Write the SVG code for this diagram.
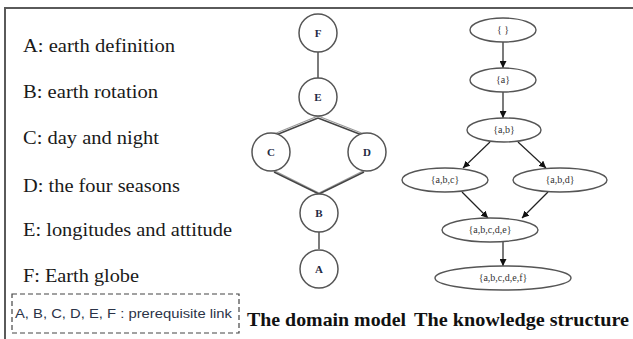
<svg xmlns="http://www.w3.org/2000/svg" width="633" height="339" viewBox="0 0 633 339">
  <defs>
    <marker id="arrow" viewBox="0 0 10 10" refX="10" refY="5" markerWidth="7" markerHeight="7" markerUnits="userSpaceOnUse" orient="auto">
      <path d="M0,0 L10,5 L0,10 z" fill="#111"/>
    </marker>
    <style>
      .legend { font-family: "Liberation Serif", "DejaVu Serif", serif; font-size: 19px; fill: #1a1a1a; }
      .caption { font-family: "Liberation Serif", "DejaVu Serif", serif; font-size: 19px; font-weight: bold; fill: #111; }
      .key { font-family: "Liberation Sans", "DejaVu Sans", sans-serif; font-size: 13px; fill: #2b3347; }
      .circle { fill: #fff; stroke: #555; stroke-width: 1.5; }
      .letter { font-family: "Liberation Serif", serif; font-size: 11px; font-weight: bold; fill: #1f2a44; text-anchor: middle; }
      .ell { fill: #fff; stroke: #555; stroke-width: 1.4; }
      .set { font-family: "Liberation Serif", serif; font-size: 10px; fill: #333; text-anchor: middle; }
      .link { stroke: #444; stroke-width: 1.4; fill: none; }
      .link2 { stroke: #999; stroke-width: 1.2; fill: none; }
      .edge { stroke: #222; stroke-width: 1.2; fill: none; marker-end: url(#arrow); }
    </style>
  </defs>
  <rect width="633" height="339" fill="#fff"/>

  <!-- outer frame (top and left rules) -->
  <path d="M5,339 V8 H633" fill="none" stroke="#5a5a5a" stroke-width="2"/>

  <!-- concept legend -->
  <g id="legend">
    <text class="legend" x="23" y="52" textLength="152" lengthAdjust="spacingAndGlyphs">A: earth definition</text>
    <text class="legend" x="23" y="98" textLength="135" lengthAdjust="spacingAndGlyphs">B: earth rotation</text>
    <text class="legend" x="23" y="144" textLength="136" lengthAdjust="spacingAndGlyphs">C: day and night</text>
    <text class="legend" x="23" y="192" textLength="157" lengthAdjust="spacingAndGlyphs">D: the four seasons</text>
    <text class="legend" x="23" y="236" textLength="209" lengthAdjust="spacingAndGlyphs">E: longitudes and attitude</text>
    <text class="legend" x="23" y="282" textLength="116" lengthAdjust="spacingAndGlyphs">F: Earth globe</text>
  </g>

  <!-- link key -->
  <g id="key">
    <rect x="12" y="294" width="227" height="39" fill="none" stroke="#444" stroke-width="1.2" stroke-dasharray="5,3"/>
    <text class="key" x="15" y="318" textLength="217" lengthAdjust="spacingAndGlyphs">A, B, C, D, E, F : prerequisite link</text>
  </g>

  <!-- domain model links -->
  <g id="domain-links">
    <line class="link" x1="318" y1="52" x2="318" y2="78"/>
    <line class="link2" x1="318" y1="116" x2="274" y2="134"/>
    <line class="link" x1="318" y1="118" x2="276" y2="135"/>
    <line class="link2" x1="318" y1="116" x2="364" y2="134"/>
    <line class="link" x1="318" y1="118" x2="362" y2="135"/>
    <line class="link2" x1="273" y1="170" x2="319" y2="193"/>
    <line class="link" x1="274" y1="172" x2="319" y2="194"/>
    <line class="link2" x1="365" y1="170" x2="319" y2="193"/>
    <line class="link" x1="364" y1="172" x2="319" y2="194"/>
    <line class="link" x1="319" y1="232" x2="319" y2="249"/>
  </g>

  <!-- domain model nodes -->
  <g id="node-F"><circle class="circle" cx="318" cy="33" r="19"/><text class="letter" x="318" y="37">F</text></g>
  <g id="node-E"><circle class="circle" cx="318" cy="97" r="19"/><text class="letter" x="318" y="101">E</text></g>
  <g id="node-C"><circle class="circle" cx="271" cy="152" r="19"/><text class="letter" x="271" y="156">C</text></g>
  <g id="node-D"><circle class="circle" cx="367" cy="152" r="19"/><text class="letter" x="367" y="156">D</text></g>
  <g id="node-B"><circle class="circle" cx="319" cy="213" r="19"/><text class="letter" x="319" y="217">B</text></g>
  <g id="node-A"><circle class="circle" cx="319" cy="269" r="19"/><text class="letter" x="319" y="273">A</text></g>

  <!-- knowledge structure edges -->
  <g id="structure-edges">
    <line class="edge" x1="503" y1="42" x2="503" y2="68"/>
    <line class="edge" x1="503" y1="92" x2="503" y2="118"/>
    <line class="edge" x1="490" y1="142" x2="463" y2="168"/>
    <line class="edge" x1="518" y1="142" x2="546" y2="168"/>
    <line class="edge" x1="462" y1="192" x2="488" y2="218"/>
    <line class="edge" x1="548" y1="192" x2="522" y2="218"/>
    <line class="edge" x1="503" y1="242" x2="503" y2="266"/>
  </g>

  <!-- knowledge structure states -->
  <g id="state-empty"><ellipse class="ell" cx="503" cy="30" rx="33" ry="12"/><text class="set" x="503" y="33">{ }</text></g>
  <g id="state-a"><ellipse class="ell" cx="503" cy="80" rx="33" ry="12"/><text class="set" x="503" y="83">{a}</text></g>
  <g id="state-ab"><ellipse class="ell" cx="504" cy="130" rx="37" ry="12"/><text class="set" x="504" y="133">{a,b}</text></g>
  <g id="state-abc"><ellipse class="ell" cx="445" cy="180" rx="43" ry="12"/><text class="set" x="445" y="183">{a,b,c}</text></g>
  <g id="state-abd"><ellipse class="ell" cx="560" cy="180" rx="47" ry="12"/><text class="set" x="560" y="183">{a,b,d}</text></g>
  <g id="state-abcde"><ellipse class="ell" cx="490" cy="230" rx="48" ry="12"/><text class="set" x="490" y="233">{a,b,c,d,e}</text></g>
  <g id="state-abcdef"><ellipse class="ell" cx="503" cy="278" rx="68" ry="12"/><text class="set" x="503" y="281">{a,b,c,d,e,f}</text></g>

  <!-- captions -->
  <text class="caption" x="247" y="326" textLength="159" lengthAdjust="spacingAndGlyphs">The domain model</text>
  <text class="caption" x="414" y="326" textLength="215" lengthAdjust="spacingAndGlyphs">The knowledge structure</text>
</svg>
